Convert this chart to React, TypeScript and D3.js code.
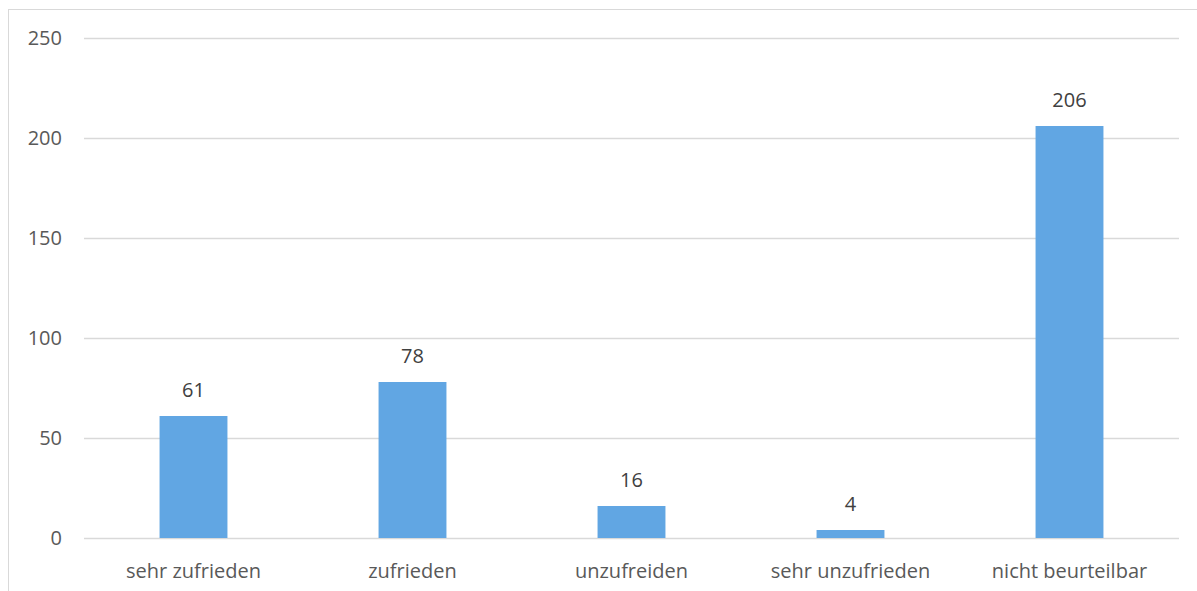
import React from "react";
import * as d3 from "d3";

const categories = ["sehr zufrieden", "zufrieden", "unzufreiden", "sehr unzufrieden", "nicht beurteilbar"];
const values = [61, 78, 16, 4, 206];
const yTicks = [0, 50, 100, 150, 200, 250];

export default function App() {
  const W = 1197, H = 591;
  const left = 84, right = 1179, top = 38, bottom = 538;
  const x = d3.scaleBand<string>().domain(categories).range([left, right]).paddingInner(0.69).paddingOuter(0.345);
  const y = d3.scaleLinear().domain([0, 250]).range([bottom, top]);
  const font = "'Open Sans', 'Liberation Sans', sans-serif";
  const fs = 20;
  return (
    <svg width={W} height={H} style={{ position: "absolute", left: 0, top: 0 }}>
      <rect x={0} y={0} width={W} height={H} fill="#fff" />
      <rect x={8.5} y={9.5} width={W + 10} height={H + 10} fill="none" stroke="#d9d9d9" strokeWidth={1} />
      {yTicks.map((t) => (
        <g key={t}>
          <line x1={left} x2={right} y1={Math.round(y(t)) + 0.5} y2={Math.round(y(t)) + 0.5} stroke="#d9d9d9" strokeWidth={1.3} />
          <text x={62} y={y(t)} dy="0.35em" textAnchor="end" fontFamily={font} fontSize={fs} fill="#595959">{t}</text>
        </g>
      ))}
      {categories.map((c, i) => (
        <g key={c}>
          <rect x={x(c)} y={y(values[i])} width={x.bandwidth()} height={y(0) - y(values[i])} fill="#61a6e3" />
          <text x={x(c)! + x.bandwidth() / 2} y={y(values[i]) - 26} dy="0.35em" textAnchor="middle" fontFamily={font} fontSize={fs} fill="#404040">{values[i]}</text>
          <text x={x(c)! + x.bandwidth() / 2} y={571} dy="0.35em" textAnchor="middle" fontFamily={font} fontSize={fs} fill="#595959">{c}</text>
        </g>
      ))}
    </svg>
  );
}
